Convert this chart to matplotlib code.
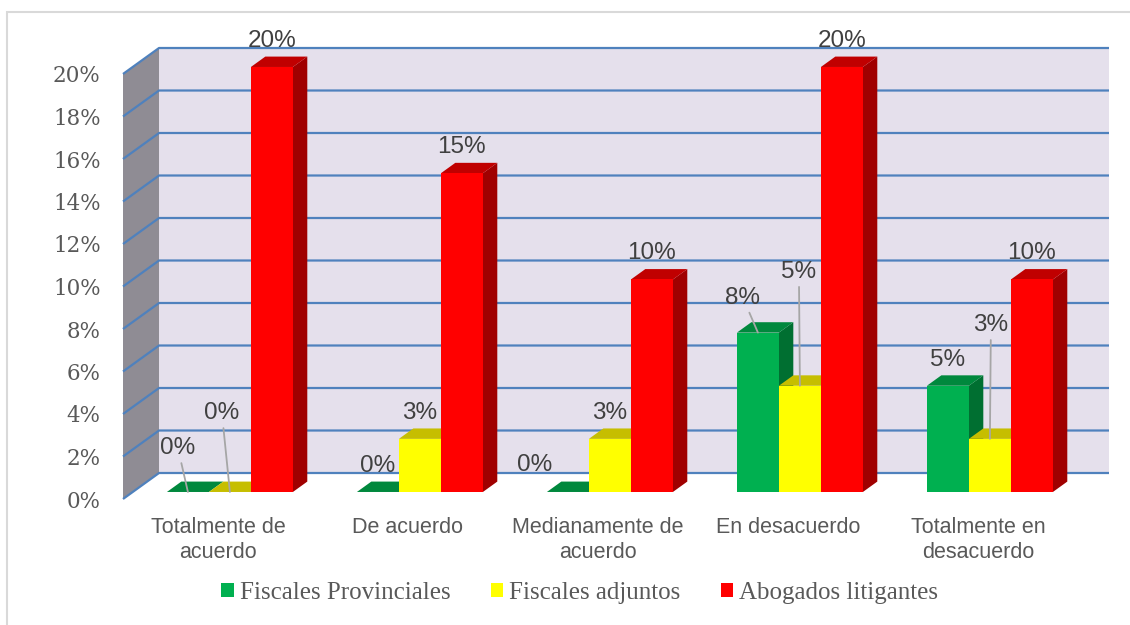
from matplotlib import pyplot as plt
from matplotlib.patches import Polygon, Patch, Rectangle

categories = ['Totalmente de\nacuerdo', 'De acuerdo', 'Medianamente de\nacuerdo',
              'En desacuerdo', 'Totalmente en\ndesacuerdo']
series_names = ['Fiscales Provinciales', 'Fiscales adjuntos', 'Abogados litigantes']
fiscales_provinciales = [0, 0, 0, 7.5, 5]
fiscales_adjuntos = [0, 2.5, 2.5, 5, 2.5]
abogados_litigantes = [20, 15, 10, 20, 10]
y_ticks = [0, 2, 4, 6, 8, 10, 12, 14, 16, 18, 20]


def main():
    series = [fiscales_provinciales, fiscales_adjuntos, abogados_litigantes]
    # front, top, side colours for each series
    colors = [('#00B050', '#00883D', '#006F31'),
              ('#FFFF00', '#C6BE00', '#A8A200'),
              ('#FF0000', '#C00000', '#A00000')]

    # fake 3d: depth offset of the wall and of the bars (data units)
    DX, DY = 0.1895, 1.2235
    F0, FD = 0.27, 0.40
    B0, BW = 0.18, 0.221
    ymax = y_ticks[-1]

    fig = plt.figure(figsize=(11.3, 6.25), dpi=100)
    ax = fig.add_axes([123 / 1130, 126 / 625, 5.2 * 190 / 1130, 22.5 * 21.25 / 625])
    ax.set_xlim(0, 5.2)
    ax.set_ylim(0, 22.5)
    for s in ax.spines.values():
        s.set_visible(False)

    n = len(categories)
    # walls
    ax.add_patch(Polygon([(DX, DY), (n + DX, DY), (n + DX, ymax + DY), (DX, ymax + DY)],
                         closed=True, facecolor='#E5E0EC', edgecolor='none', clip_on=False, zorder=1))
    ax.add_patch(Polygon([(0, 0), (DX, DY), (DX, ymax + DY), (0, ymax)],
                         closed=True, facecolor='#8F8C94', edgecolor='none', clip_on=False, zorder=1))
    for v in y_ticks:
        ax.plot([0, DX, n + DX], [v, v + DY, v + DY], color='#4F81BD', lw=1.6,
                clip_on=False, zorder=2, solid_capstyle='butt')

    # label offsets in pixels from the front top of the bar, (dx, dy, leader line)
    special = {(0, 0): (-10, 44, True), (0, 1): (-8, 79, True), (2, 0): (-33, 27, False),
               (3, 0): (-15, 35, True), (3, 1): (-1, 114, True), (4, 1): (1, 114, True)}

    z = 3
    for i in range(n):
        for k, vals in enumerate(series):
            v = vals[i]
            front, top, side = colors[k]
            x0 = i + B0 + k * BW + F0 * DX
            y0 = F0 * DY
            ddx, ddy = FD * DX, FD * DY
            ax.add_patch(Polygon([(x0 + BW, y0), (x0 + BW + ddx, y0 + ddy),
                                  (x0 + BW + ddx, y0 + v + ddy), (x0 + BW, y0 + v)],
                                 closed=True, facecolor=side, edgecolor='none', zorder=z, clip_on=False))
            ax.add_patch(Polygon([(x0, y0 + v), (x0 + BW, y0 + v),
                                  (x0 + BW + ddx, y0 + v + ddy), (x0 + ddx, y0 + v + ddy)],
                                 closed=True, facecolor=top, edgecolor='none', zorder=z, clip_on=False))
            ax.add_patch(Rectangle((x0, y0), BW, v, facecolor=front, edgecolor='none',
                                   zorder=z, clip_on=False))
            z += 1

            ox, oy, leader = special.get((i, k), (0, 26, False))
            arrow = dict(arrowstyle='-', color='#A6A6A6', lw=1.3, shrinkA=1, shrinkB=0) if leader else None
            ax.annotate(f'{int(v + 0.5)}%', xy=(x0 + BW / 2, y0 + v), xytext=(ox, oy),
                        textcoords='offset pixels', ha='center', va='center',
                        fontsize=17.5, family='Liberation Sans', color='#404040',
                        arrowprops=arrow, zorder=20, annotation_clip=False)

    ax.set_yticks(y_ticks)
    ax.set_yticklabels([f'{v}%' for v in y_ticks], family='DejaVu Serif', fontsize=15.5, color='#595959')
    ax.set_xticks([i + 0.5 for i in range(n)])
    ax.set_xticklabels(categories, family='Liberation Sans', fontsize=15.5, color='#595959',
                       linespacing=1.25)
    ax.tick_params(axis='y', length=0, pad=16)
    ax.tick_params(axis='x', length=0, pad=13)

    handles = [Patch(facecolor=c[0], edgecolor='none') for c in colors]
    fig.legend(handles, series_names, loc='center', bbox_to_anchor=(0.513, 0.051), ncol=3,
               frameon=False, prop={'family': 'Liberation Serif', 'size': 18},
               labelcolor='#595959', handlelength=0.5, handleheight=0.5,
               handletextpad=0.25, columnspacing=1.6)

    fig.add_artist(Rectangle((7 / 1130, -0.1), 1.2, 1.1 - 12 / 625, transform=fig.transFigure,
                             fill=False, edgecolor='#D9D9D9', lw=1.5))

    fig.savefig('out.png', dpi=100)


if __name__ == '__main__':
    main()
